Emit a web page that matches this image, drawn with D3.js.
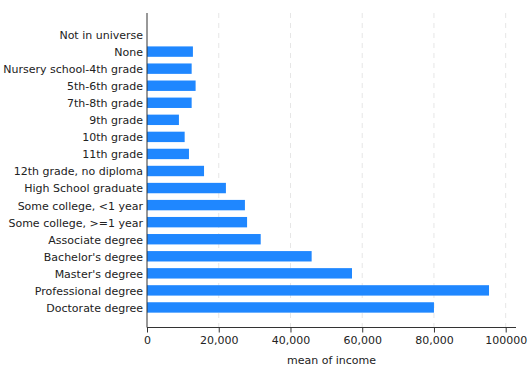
<!DOCTYPE html>
<html>
<head>
<meta charset="utf-8" />
<script src="https://d3js.org/d3.v7.min.js"></script>
<style>
  body { margin: 0; background: #fff; }
  text { font-family: "DejaVu Sans", sans-serif; }
</style>
</head>
<body>
<svg id="chart" width="528" height="384"></svg>
<script>
// education categories, top to bottom
var categories = ["Not in universe", "None", "Nursery school-4th grade", "5th-6th grade",
  "7th-8th grade", "9th grade", "10th grade", "11th grade", "12th grade, no diploma",
  "High School graduate", "Some college, <1 year", "Some college, >=1 year",
  "Associate degree", "Bachelor's degree", "Master's degree", "Professional degree",
  "Doctorate degree"];
// mean income per category
var incomes = [0, 12800, 12450, 13550, 12450, 8900, 10500, 11700, 15900,
  22000, 27300, 27900, 31700, 45900, 57150, 95350, 80000];
var tickValues = [0, 20000, 40000, 60000, 80000, 100000];
var tickLabels = ["0", "20,000", "40,000", "60,000", "80,000", "100000"];

var data = categories.map(function(c, i) { return {cat: c, val: incomes[i]}; });

var svg = d3.select("#chart");
var plotLeft = 147, plotRight = 516, plotTop = 13, plotBottom = 327.5;

var x = d3.scaleLinear().domain([0, 100000]).range([plotLeft, 505.7]);
var y = d3.scaleBand().domain(categories).range([plotTop + 1, plotBottom + 0.5])
  .paddingInner(0.39).paddingOuter(0.9);

// dashed grid
svg.append("g").selectAll("line").data(tickValues.slice(1)).enter().append("line")
  .attr("x1", function(d) { return x(d); }).attr("x2", function(d) { return x(d); })
  .attr("y1", plotTop).attr("y2", plotBottom)
  .attr("stroke", "#e6e6e6").attr("stroke-width", 1).attr("stroke-dasharray", "5,5");

// bars
svg.append("g").selectAll("rect").data(data).enter().append("rect")
  .attr("x", x(0))
  .attr("y", function(d) { return y(d.cat); })
  .attr("width", function(d) { return x(d.val) - x(0); })
  .attr("height", y.bandwidth())
  .attr("fill", "#1f87ff");

// y axis
var yAxis = svg.append("g").attr("transform", "translate(" + plotLeft + ",0)")
  .call(d3.axisLeft(y).tickSize(0).tickPadding(4));
yAxis.select(".domain").attr("d", "M0," + plotTop + "V" + plotBottom).attr("stroke", "#333");
yAxis.selectAll("text").attr("font-size", 11).attr("fill", "#222").attr("dy", "0.4em")
  .attr("font-family", "DejaVu Sans, sans-serif");

// x axis
var xAxis = svg.append("g").attr("transform", "translate(0," + plotBottom + ")")
  .call(d3.axisBottom(x).tickValues(tickValues)
    .tickFormat(function(d, i) { return tickLabels[i]; }).tickSize(5).tickPadding(4));
xAxis.select(".domain").attr("d", "M" + plotLeft + ",0H" + plotRight).attr("stroke", "#333");
xAxis.selectAll(".tick line").attr("stroke", "#333");
xAxis.selectAll("text").attr("font-size", 11).attr("fill", "#222")
  .attr("font-family", "DejaVu Sans, sans-serif");

svg.append("text")
  .attr("x", (plotLeft + plotRight) / 2).attr("y", 364)
  .attr("text-anchor", "middle").attr("font-size", 11).attr("fill", "#222")
  .text("mean of income");
</script>
</body>
</html>
